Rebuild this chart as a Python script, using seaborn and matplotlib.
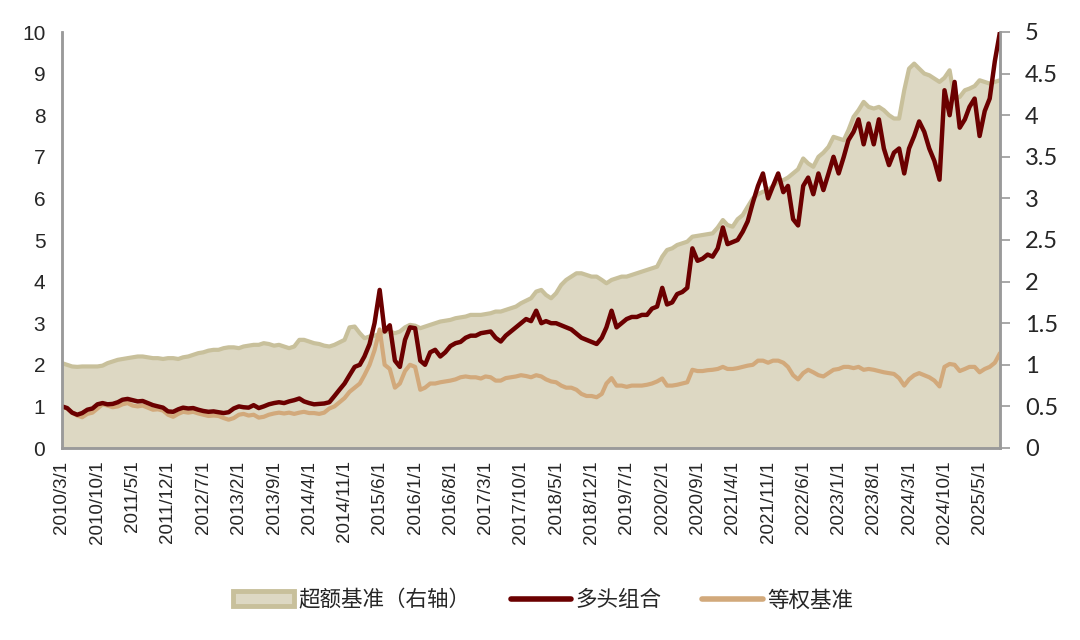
import pandas as pd
import matplotlib
matplotlib.use("Agg")
import matplotlib.pyplot as plt
from matplotlib.patches import Patch
from matplotlib.lines import Line2D
from matplotlib.ticker import FuncFormatter
import seaborn as sns

# 月度数据：2010/3 - 2025/9
start_month = "2010-03-01"

# 多头组合（左轴）
duotou = [
    1.00, 0.96, 0.85, 0.80, 0.84, 0.92, 0.95, 1.05, 1.08, 1.05,
    1.06, 1.10, 1.16, 1.18, 1.15, 1.12, 1.13, 1.08, 1.03, 1.00, 0.97, 0.88,
    0.87, 0.93, 0.97, 0.95, 0.96, 0.92, 0.89, 0.87, 0.88, 0.86, 0.84, 0.86,
    0.95, 1.00, 0.98, 0.97, 1.03, 0.96, 1.00, 1.05, 1.08, 1.10, 1.08, 1.12,
    1.15, 1.19, 1.12, 1.08, 1.05, 1.06, 1.07, 1.10, 1.25, 1.40, 1.55, 1.75,
    1.95, 2.00, 2.20, 2.50, 3.00, 3.80, 2.80, 2.95, 2.10, 1.95, 2.60, 2.90,
    2.88, 2.10, 2.00, 2.30, 2.36, 2.20, 2.30, 2.45, 2.52, 2.55, 2.65, 2.70,
    2.70, 2.76, 2.78, 2.80, 2.65, 2.56, 2.70, 2.80, 2.90, 3.00, 3.10, 3.05,
    3.30, 3.00, 3.05, 3.00, 3.00, 2.95, 2.90, 2.85, 2.75, 2.65, 2.60, 2.55,
    2.50, 2.65, 2.90, 3.30, 2.90, 3.00, 3.10, 3.15, 3.15, 3.20, 3.20, 3.35,
    3.40, 3.85, 3.45, 3.50, 3.70, 3.75, 3.85, 4.80, 4.50, 4.55, 4.65, 4.60,
    4.80, 5.30, 4.90, 4.95, 5.00, 5.20, 5.45, 5.90, 6.30, 6.60, 6.00, 6.30,
    6.60, 6.15, 6.30, 5.50, 5.35, 6.30, 6.50, 6.10, 6.60, 6.20, 6.60, 7.00,
    6.60, 7.00, 7.40, 7.60, 7.90, 7.30, 7.80, 7.30, 7.90, 7.20, 6.80, 7.10,
    7.20, 6.60, 7.20, 7.50, 7.85, 7.60, 7.20, 6.90, 6.45, 8.60, 8.00, 8.80,
    7.70, 7.90, 8.20, 8.40, 7.50, 8.10, 8.40, 9.30, 10.00,
]

# 等权基准（左轴）
dengquan = [
    1.00, 0.95, 0.85, 0.78, 0.74, 0.82, 0.85, 0.95, 1.05, 1.02,
    0.98, 1.00, 1.05, 1.08, 1.02, 1.00, 1.02, 0.97, 0.92, 0.93, 0.90, 0.80,
    0.75, 0.82, 0.87, 0.85, 0.87, 0.83, 0.80, 0.77, 0.78, 0.77, 0.72, 0.68,
    0.72, 0.80, 0.82, 0.78, 0.80, 0.73, 0.75, 0.80, 0.83, 0.85, 0.83, 0.85,
    0.82, 0.85, 0.87, 0.84, 0.84, 0.82, 0.85, 0.95, 1.00, 1.10, 1.20, 1.35,
    1.45, 1.55, 1.75, 2.00, 2.35, 2.85, 2.00, 1.90, 1.45, 1.55, 1.85, 2.00,
    1.95, 1.40, 1.45, 1.55, 1.55, 1.58, 1.60, 1.62, 1.65, 1.70, 1.72, 1.70,
    1.70, 1.67, 1.72, 1.70, 1.62, 1.62, 1.68, 1.70, 1.72, 1.75, 1.73, 1.70,
    1.75, 1.72, 1.65, 1.60, 1.58, 1.50, 1.45, 1.45, 1.40, 1.30, 1.25, 1.25,
    1.22, 1.30, 1.55, 1.68, 1.50, 1.50, 1.47, 1.50, 1.50, 1.50, 1.52, 1.55,
    1.60, 1.67, 1.50, 1.50, 1.52, 1.55, 1.58, 1.88, 1.85, 1.85, 1.87, 1.88,
    1.90, 1.95, 1.90, 1.90, 1.92, 1.95, 1.98, 2.00, 2.10, 2.10, 2.05, 2.10,
    2.10, 2.05, 1.95, 1.75, 1.65, 1.80, 1.88, 1.82, 1.75, 1.72, 1.80, 1.88,
    1.90, 1.95, 1.95, 1.92, 1.95, 1.88, 1.90, 1.88, 1.85, 1.82, 1.80, 1.78,
    1.68, 1.50, 1.65, 1.75, 1.80, 1.75, 1.70, 1.62, 1.48, 1.95, 2.02, 2.00,
    1.85, 1.90, 1.95, 1.95, 1.82, 1.90, 1.95, 2.05, 2.28,
]

# 超额基准（右轴）
chaoe = [
    1.02, 1.00, 0.98, 0.975, 0.98, 0.98, 0.98, 0.98, 0.99, 1.02,
    1.04, 1.06, 1.07, 1.08, 1.09, 1.10, 1.10, 1.09, 1.08, 1.08, 1.07, 1.08,
    1.08, 1.07, 1.09, 1.10, 1.12, 1.14, 1.15, 1.17, 1.18, 1.18, 1.20, 1.21,
    1.21, 1.20, 1.22, 1.23, 1.24, 1.24, 1.26, 1.25, 1.23, 1.24, 1.22, 1.20,
    1.22, 1.30, 1.30, 1.28, 1.26, 1.25, 1.23, 1.22, 1.24, 1.27, 1.30, 1.45,
    1.46, 1.38, 1.32, 1.34, 1.35, 1.37, 1.40, 1.40, 1.38, 1.40, 1.45, 1.48,
    1.47, 1.44, 1.46, 1.48, 1.50, 1.52, 1.53, 1.54, 1.56, 1.57, 1.58, 1.60,
    1.60, 1.60, 1.61, 1.62, 1.64, 1.64, 1.66, 1.68, 1.70, 1.74, 1.77, 1.80,
    1.88, 1.90, 1.84, 1.80, 1.86, 1.96, 2.02, 2.06, 2.10, 2.10, 2.08, 2.06,
    2.06, 2.02, 1.98, 2.02, 2.04, 2.06, 2.06, 2.08, 2.10, 2.12, 2.14, 2.16,
    2.18, 2.30, 2.38, 2.40, 2.44, 2.46, 2.48, 2.54, 2.55, 2.56, 2.57, 2.58,
    2.65, 2.74, 2.68, 2.66, 2.75, 2.80, 2.90, 3.00, 3.05, 3.08, 3.10, 3.15,
    3.20, 3.22, 3.25, 3.30, 3.35, 3.48, 3.42, 3.38, 3.50, 3.55, 3.62, 3.74,
    3.72, 3.70, 3.82, 3.98, 4.06, 4.16, 4.10, 4.08, 4.10, 4.06, 4.00, 3.96,
    3.96, 4.30, 4.56, 4.62, 4.56, 4.50, 4.48, 4.44, 4.40, 4.45, 4.54, 4.20,
    4.22, 4.30, 4.32, 4.35, 4.42, 4.40, 4.38, 4.40, 4.42,
]

xtick_labels = [
    "2010/3/1", "2010/10/1", "2011/5/1", "2011/12/1", "2012/7/1", "2013/2/1",
    "2013/9/1", "2014/4/1", "2014/11/1", "2015/6/1", "2016/1/1", "2016/8/1",
    "2017/3/1", "2017/10/1", "2018/5/1", "2018/12/1", "2019/7/1", "2020/2/1",
    "2020/9/1", "2021/4/1", "2021/11/1", "2022/6/1", "2023/1/1", "2023/8/1",
    "2024/3/1", "2024/10/1", "2025/5/1",
]

legend_labels = ["超额基准（右轴）", "多头组合", "等权基准"]

C_RED = "#6b0000"
C_TAN = "#d2a97b"
C_FILL = "#ddd8c3"
C_EDGE = "#c8c09b"
C_AXIS = "#9a9a9a"

dates = pd.date_range(start_month, periods=len(duotou), freq="MS")
df = pd.DataFrame({"date": dates, "duotou": duotou, "dengquan": dengquan, "chaoe": chaoe})
tick_dates = pd.to_datetime(xtick_labels, format="%Y/%m/%d")

sns.set_style("white")
plt.rcParams["font.family"] = ["Liberation Sans", "Noto Sans CJK SC", "DejaVu Sans"]

fig = plt.figure(figsize=(10.8, 6.4), dpi=100)
ax = fig.add_axes([0.0574, 0.30, 0.8685, 0.65])
ax2 = ax.twinx()

# 面积图（右轴）
ax2.fill_between(df["date"], 0, df["chaoe"], color=C_FILL, linewidth=0)
sns.lineplot(data=df, x="date", y="chaoe", ax=ax2, color=C_EDGE, linewidth=3.0, legend=False)

# 折线（左轴）
sns.lineplot(data=df, x="date", y="dengquan", ax=ax, color=C_TAN, linewidth=3.0, legend=False)
sns.lineplot(data=df, x="date", y="duotou", ax=ax, color=C_RED, linewidth=3.2, legend=False)

ax.set_zorder(ax2.get_zorder() + 1)
ax.patch.set_visible(False)

ax.set_xlim(dates[0], dates[-1])
ax.set_ylim(0, 10)
ax2.set_ylim(0, 5)
ax.set_yticks(range(0, 11))
ax2.set_yticks([i * 0.5 for i in range(11)])
ax2.yaxis.set_major_formatter(FuncFormatter(lambda v, p: f"{v:g}"))

ax.set_xticks(tick_dates)
ax.set_xticklabels(xtick_labels, rotation=90, fontsize=13.5)
ax.tick_params(axis="x", direction="out", length=5, color=C_AXIS, width=1.2, pad=4)
ax.tick_params(axis="y", length=0, labelsize=15, pad=12)
ax2.tick_params(axis="y", direction="out", length=7, color=C_AXIS, width=1.2, labelsize=17, pad=11)
for lab in ax2.get_yticklabels():
    lab.set_family(["Lato", "DejaVu Sans"])

ax.set_xlabel("")
ax.set_ylabel("")
ax2.set_xlabel("")
ax2.set_ylabel("")

for a in (ax, ax2):
    a.spines["top"].set_visible(False)
    for s in ("left", "right", "bottom"):
        a.spines[s].set_color(C_AXIS)
        a.spines[s].set_linewidth(1.8)
ax.grid(False)
ax2.grid(False)

handles = [
    Patch(facecolor=C_FILL, edgecolor=C_EDGE, linewidth=3.5),
    Line2D([], [], color=C_RED, linewidth=4),
    Line2D([], [], color=C_TAN, linewidth=4),
]
fig.legend(handles, legend_labels, loc="center", bbox_to_anchor=(0.503, 0.061), ncol=3,
           frameon=False, fontsize=15.5, handlelength=2.8, handleheight=0.7,
           columnspacing=1.9, handletextpad=0.2)

fig.savefig("out.png", dpi=100)
plt.close(fig)
